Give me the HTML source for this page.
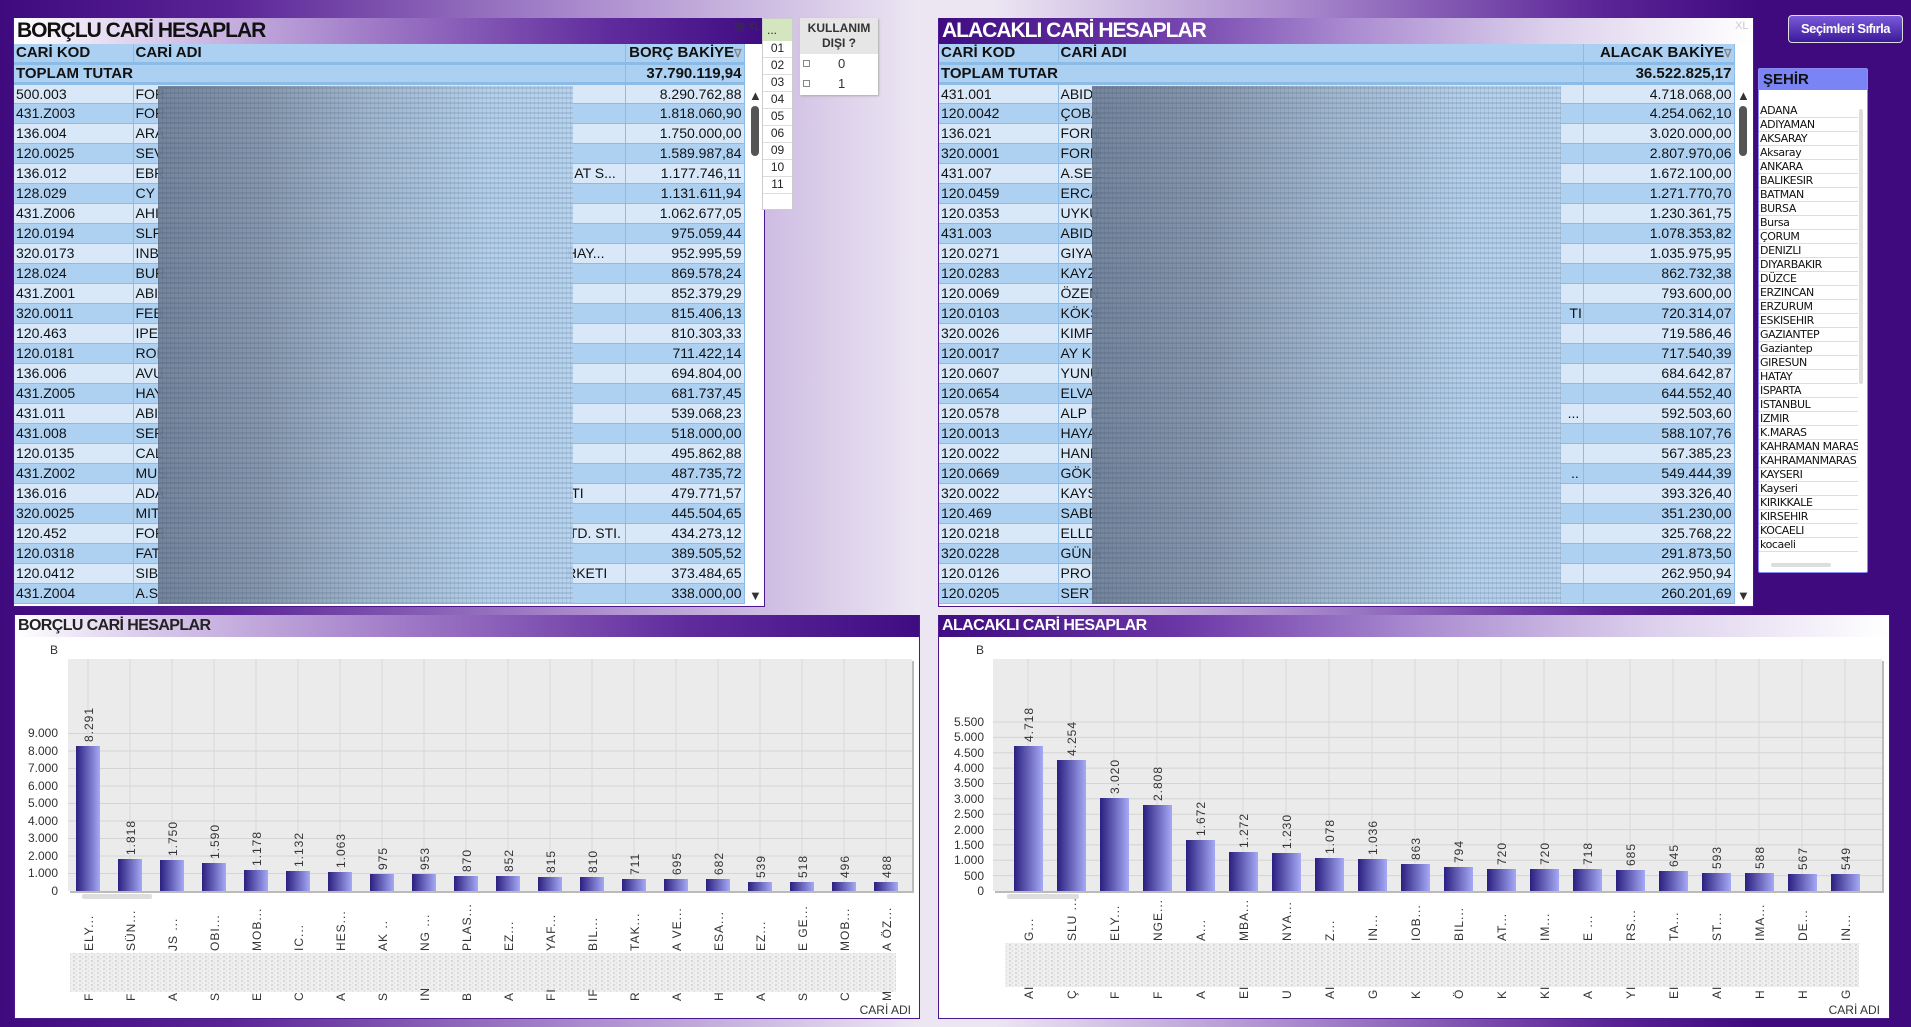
<!DOCTYPE html>
<html><head><meta charset="utf-8">
<style>
*{margin:0;padding:0;box-sizing:border-box}
body{width:1911px;height:1027px;overflow:hidden;position:relative;font-family:"Liberation Sans",sans-serif;
background:linear-gradient(90deg,#3e0a7e 0%,#5a2496 12%,#a888cc 30%,#ece6f3 48%,#ece6f3 52%,#a888cc 68%,#5a2496 84%,#3e0a7e 92%,#3e0a7e 100%);}
.abs{position:absolute}
.title{position:absolute;height:26px;font-family:"Liberation Sans Narrow","Liberation Sans",sans-serif;font-weight:bold;font-size:21px;line-height:26px;padding-left:3px;letter-spacing:-1px}
table.t{position:absolute;border-collapse:collapse;table-layout:fixed;font-size:14px;font-family:"Liberation Sans",sans-serif}
table.t td{height:20px;padding:0 2px;border-right:1px solid #8cbbe6;border-bottom:1px solid #8cbbe6;white-space:nowrap;overflow:hidden;color:#111}
table.t tr.h td{height:19px;background:#abd0f2;font-family:"Liberation Sans Narrow","Liberation Sans",sans-serif;font-weight:bold;font-size:15px;border-bottom:3px solid #8cbbe6}
table.t tr.tot td{height:20px;background:#abd0f2;font-family:"Liberation Sans Narrow","Liberation Sans",sans-serif;font-weight:bold;font-size:15px;border-bottom:3px solid #8cbbe6}
table.t tr.l td{background:#d8e8f8}
table.t tr.d td{background:#afd1f1}
table.t td.v{text-align:right}
.blur{position:absolute;background:repeating-linear-gradient(0deg,rgba(40,50,70,.12) 0 2px,rgba(255,255,255,0) 2px 5px),repeating-linear-gradient(90deg,rgba(40,50,70,.10) 0 1px,rgba(255,255,255,0) 1px 4px),linear-gradient(90deg,#6f8098 0%,#8294aa 25%,#9db4cc 50%,#b3cfea 80%,#b6d3ef 100%);opacity:.95}
.sh li{list-style:none;height:14px;font-size:11px;line-height:14px;border-bottom:1px solid #ddd;padding-left:1px;color:#111;white-space:nowrap;overflow:hidden;font-family:"DejaVu Sans","Liberation Sans",sans-serif;letter-spacing:-0.4px}
</style></head><body>

<div class="abs" style="left:13px;top:18px;width:752px;height:589px;background:#fff;border:1px solid #4b1690"></div>
<div class="title" style="left:14px;top:18px;width:750px;background:linear-gradient(90deg,#fff 0%,#d8c8ea 20%,#9b74c4 50%,#5e2a9c 80%,#3f0c82 100%);color:#111">BORÇLU CARİ HESAPLAR</div>
<div class="abs" style="left:734px;top:20px;font-size:11px;color:#333">▤ XL</div>
<table class="t" style="left:14px;top:44px;width:730px">
<colgroup><col style="width:119px"><col style="width:492px"><col style="width:119px"></colgroup>
<tr class="h"><td>CARİ KOD</td><td>CARİ ADI</td><td class="v">BORÇ BAKİYE<span style="color:#888;font-size:11px">∇</span></td></tr>
<tr class="tot"><td colspan="2">TOPLAM TUTAR</td><td class="v">37.790.119,94</td></tr>
<tr class="l"><td>500.003</td><td>FOR</td><td class="v">8.290.762,88</td></tr>
<tr class="d"><td>431.Z003</td><td>FOR</td><td class="v">1.818.060,90</td></tr>
<tr class="l"><td>136.004</td><td>ARA</td><td class="v">1.750.000,00</td></tr>
<tr class="d"><td>120.0025</td><td>SEV</td><td class="v">1.589.987,84</td></tr>
<tr class="l"><td>136.012</td><td>EBR<span style="position:relative;left:410px">AT S...</span></td><td class="v">1.177.746,11</td></tr>
<tr class="d"><td>128.029</td><td>CY</td><td class="v">1.131.611,94</td></tr>
<tr class="l"><td>431.Z006</td><td>AHI</td><td class="v">1.062.677,05</td></tr>
<tr class="d"><td>120.0194</td><td>SLP</td><td class="v">975.059,44</td></tr>
<tr class="l"><td>320.0173</td><td>INB<span style="position:relative;left:408px">HAY...</span></td><td class="v">952.995,59</td></tr>
<tr class="d"><td>128.024</td><td>BUR</td><td class="v">869.578,24</td></tr>
<tr class="l"><td>431.Z001</td><td>ABI</td><td class="v">852.379,29</td></tr>
<tr class="d"><td>320.0011</td><td>FEB</td><td class="v">815.406,13</td></tr>
<tr class="l"><td>120.463</td><td>IPE</td><td class="v">810.303,33</td></tr>
<tr class="d"><td>120.0181</td><td>ROI</td><td class="v">711.422,14</td></tr>
<tr class="l"><td>136.006</td><td>AVU</td><td class="v">694.804,00</td></tr>
<tr class="d"><td>431.Z005</td><td>HAY</td><td class="v">681.737,45</td></tr>
<tr class="l"><td>431.011</td><td>ABI</td><td class="v">539.068,23</td></tr>
<tr class="d"><td>431.008</td><td>SER</td><td class="v">518.000,00</td></tr>
<tr class="l"><td>120.0135</td><td>CAL</td><td class="v">495.862,88</td></tr>
<tr class="d"><td>431.Z002</td><td>MUS</td><td class="v">487.735,72</td></tr>
<tr class="l"><td>136.016</td><td>ADA<span style="position:relative;left:408px">TI</span></td><td class="v">479.771,57</td></tr>
<tr class="d"><td>320.0025</td><td>MIT</td><td class="v">445.504,65</td></tr>
<tr class="l"><td>120.452</td><td>FOR<span style="position:relative;left:404px">TD. STI.</span></td><td class="v">434.273,12</td></tr>
<tr class="d"><td>120.0318</td><td>FAT</td><td class="v">389.505,52</td></tr>
<tr class="l"><td>120.0412</td><td>SIB<span style="position:relative;left:408px">RKETI</span></td><td class="v">373.484,65</td></tr>
<tr class="d"><td>431.Z004</td><td>A.S</td><td class="v">338.000,00</td></tr>
</table>
<div class="blur" style="left:158px;top:86px;width:415px;height:518px"></div>
<div class="abs" style="left:749px;top:88px;font-size:13px;color:#333">▲</div>
<div class="abs" style="left:751px;top:106px;width:8px;height:50px;background:#555;border-radius:4px"></div>
<div class="abs" style="left:749px;top:588px;font-size:13px;color:#333">▼</div>

<div class="abs" style="left:762px;top:18px;width:31px;height:192px;background:#fff;border:1px solid #ccc;font-size:12px;color:#222">
<div style="height:22px;background:#d3e6bf;padding-left:4px;line-height:22px">...</div>
<div style="height:17px;border-bottom:1px solid #ddd;text-align:center">01</div>
<div style="height:17px;border-bottom:1px solid #ddd;text-align:center">02</div>
<div style="height:17px;border-bottom:1px solid #ddd;text-align:center">03</div>
<div style="height:17px;border-bottom:1px solid #ddd;text-align:center">04</div>
<div style="height:17px;border-bottom:1px solid #ddd;text-align:center">05</div>
<div style="height:17px;border-bottom:1px solid #ddd;text-align:center">06</div>
<div style="height:17px;border-bottom:1px solid #ddd;text-align:center">09</div>
<div style="height:17px;border-bottom:1px solid #ddd;text-align:center">10</div>
<div style="height:17px;border-bottom:1px solid #ddd;text-align:center">11</div>
</div>
<div class="abs" style="left:800px;top:18px;width:78px;height:77px;background:#fff;box-shadow:1px 1px 2px #aaa;font-size:13px;color:#333">
<div style="height:36px;background:#e6e6e6;text-align:center;font-weight:bold;font-size:12px;line-height:15px;padding-top:3px">KULLANIM<br>DIŞI ?</div>
<div style="height:20px;line-height:20px;position:relative"><span style="position:absolute;left:3px;top:6px;width:7px;height:7px;border:1px solid #888"></span><span style="position:absolute;left:38px">0</span></div>
<div style="height:20px;line-height:20px;position:relative"><span style="position:absolute;left:3px;top:6px;width:7px;height:7px;border:1px solid #888"></span><span style="position:absolute;left:38px">1</span></div>
</div>

<div class="abs" style="left:938px;top:18px;width:816px;height:589px;background:#fff;border:1px solid #4b1690"></div>
<div class="title" style="left:939px;top:18px;width:814px;background:linear-gradient(90deg,#3f0c82 0%,#6a36a6 25%,#a98ad0 50%,#dcd0ec 75%,#fff 100%);color:#fff">ALACAKLI CARİ HESAPLAR</div>
<div class="abs" style="left:1735px;top:20px;font-size:11px;color:#ccc">XL</div>
<table class="t" style="left:939px;top:44px;width:795px">
<colgroup><col style="width:119px"><col style="width:525px"><col style="width:151px"></colgroup>
<tr class="h"><td>CARİ KOD</td><td>CARİ ADI</td><td class="v">ALACAK BAKİYE<span style="color:#888;font-size:11px">∇</span></td></tr>
<tr class="tot"><td colspan="2">TOPLAM TUTAR</td><td class="v">36.522.825,17</td></tr>
<tr class="l"><td>431.001</td><td>ABID</td><td class="v">4.718.068,00</td></tr>
<tr class="d"><td>120.0042</td><td>ÇOBA</td><td class="v">4.254.062,10</td></tr>
<tr class="l"><td>136.021</td><td>FORN</td><td class="v">3.020.000,00</td></tr>
<tr class="d"><td>320.0001</td><td>FORN</td><td class="v">2.807.970,06</td></tr>
<tr class="l"><td>431.007</td><td>A.SEZ</td><td class="v">1.672.100,00</td></tr>
<tr class="d"><td>120.0459</td><td>ERCA</td><td class="v">1.271.770,70</td></tr>
<tr class="l"><td>120.0353</td><td>UYKU</td><td class="v">1.230.361,75</td></tr>
<tr class="d"><td>431.003</td><td>ABID</td><td class="v">1.078.353,82</td></tr>
<tr class="l"><td>120.0271</td><td>GIYA</td><td class="v">1.035.975,95</td></tr>
<tr class="d"><td>120.0283</td><td>KAYZ</td><td class="v">862.732,38</td></tr>
<tr class="l"><td>120.0069</td><td>ÖZEN</td><td class="v">793.600,00</td></tr>
<tr class="d"><td>120.0103</td><td>KÖKS<span style="position:relative;left:470px">TI.</span></td><td class="v">720.314,07</td></tr>
<tr class="l"><td>320.0026</td><td>KIMP</td><td class="v">719.586,46</td></tr>
<tr class="d"><td>120.0017</td><td>AY K</td><td class="v">717.540,39</td></tr>
<tr class="l"><td>120.0607</td><td>YUNU</td><td class="v">684.642,87</td></tr>
<tr class="d"><td>120.0654</td><td>ELVA</td><td class="v">644.552,40</td></tr>
<tr class="l"><td>120.0578</td><td>ALP F<span style="position:relative;left:470px">...</span></td><td class="v">592.503,60</td></tr>
<tr class="d"><td>120.0013</td><td>HAYA</td><td class="v">588.107,76</td></tr>
<tr class="l"><td>120.0022</td><td>HANE</td><td class="v">567.385,23</td></tr>
<tr class="d"><td>120.0669</td><td>GÖKS<span style="position:relative;left:470px">..</span></td><td class="v">549.444,39</td></tr>
<tr class="l"><td>320.0022</td><td>KAYS</td><td class="v">393.326,40</td></tr>
<tr class="d"><td>120.469</td><td>SABE</td><td class="v">351.230,00</td></tr>
<tr class="l"><td>120.0218</td><td>ELLD</td><td class="v">325.768,22</td></tr>
<tr class="d"><td>320.0228</td><td>GÜNA</td><td class="v">291.873,50</td></tr>
<tr class="l"><td>120.0126</td><td>PROL</td><td class="v">262.950,94</td></tr>
<tr class="d"><td>120.0205</td><td>SERT</td><td class="v">260.201,69</td></tr>
</table>
<div class="blur" style="left:1092px;top:86px;width:469px;height:518px"></div>
<div class="abs" style="left:1737px;top:88px;font-size:13px;color:#333">▲</div>
<div class="abs" style="left:1739px;top:106px;width:8px;height:50px;background:#555;border-radius:4px"></div>
<div class="abs" style="left:1737px;top:588px;font-size:13px;color:#333">▼</div>

<div class="abs" style="left:1788px;top:15px;width:115px;height:28px;border:1px solid #ddd;border-radius:4px;background:linear-gradient(#7a5ad8,#3a1a9a);color:#fff;font-weight:bold;font-size:13px;text-align:center;line-height:26px;letter-spacing:-0.5px">Seçimleri Sıfırla</div>

<div class="abs sh" style="left:1758px;top:68px;width:110px;height:505px;background:#fff;border:1px solid #8a8af0;border-radius:2px">
<div style="height:21px;background:#7b84f5;font-weight:bold;font-size:15px;line-height:21px;padding-left:4px;color:#111;font-family:'Liberation Sans Narrow','Liberation Sans',sans-serif">ŞEHİR</div>
<ul style="margin-top:14px;width:99px">
<li>ADANA</li><li>ADIYAMAN</li><li>AKSARAY</li><li>Aksaray</li><li>ANKARA</li><li>BALIKESIR</li><li>BATMAN</li><li>BURSA</li><li>Bursa</li><li>ÇORUM</li><li>DENIZLI</li><li>DIYARBAKIR</li><li>DÜZCE</li><li>ERZINCAN</li><li>ERZURUM</li><li>ESKISEHIR</li><li>GAZIANTEP</li><li>Gaziantep</li><li>GIRESUN</li><li>HATAY</li><li>ISPARTA</li><li>ISTANBUL</li><li>IZMIR</li><li>K.MARAS</li><li>KAHRAMAN MARAS</li><li>KAHRAMANMARAS</li><li>KAYSERI</li><li>Kayseri</li><li>KIRIKKALE</li><li>KIRSEHIR</li><li>KOCAELI</li><li>kocaeli</li>
</ul>
<div class="abs" style="left:100px;top:40px;width:4px;height:275px;background:#ddd;border-radius:2px"></div>
<div class="abs" style="left:12px;top:494px;width:60px;height:4px;background:#ddd;border-radius:2px"></div>
</div>

<div class="abs" style="left:14px;top:615px;width:906px;height:404px;background:#fff;border:1px solid #4b1690"></div>
<div class="title" style="left:15px;top:615px;width:904px;height:22px;font-size:16px;line-height:22px;letter-spacing:-0.6px;background:linear-gradient(90deg,#fff 0%,#d8c8ea 15%,#9b74c4 45%,#5e2a9c 75%,#3f0c82 100%);color:#222">BORÇLU CARİ HESAPLAR</div>
<svg class="abs" style="left:0;top:0" width="1911" height="1027" xmlns="http://www.w3.org/2000/svg" font-family="Liberation Sans, sans-serif">
<defs>
<linearGradient id="bg" x1="0" x2="1" y1="0" y2="0"><stop offset="0" stop-color="#2a1f80"/><stop offset="1" stop-color="#a6aaf5"/></linearGradient>
<pattern id="nz" width="6" height="4" patternUnits="userSpaceOnUse"><rect width="6" height="4" fill="#efefef"/><rect x="1" y="0" width="2" height="2" fill="#d8d8d8"/><rect x="4" y="2" width="1" height="2" fill="#e0e0e0"/></pattern>
</defs>
<rect x="70" y="661" width="844" height="232" fill="#bbb"/>
<rect x="68" y="659" width="844" height="232" fill="#ebebeb"/>
<g stroke="#d4d4d4" stroke-width="1">
<line x1="68" x2="912" y1="873.5" y2="873.5"/><line x1="68" x2="912" y1="856" y2="856"/><line x1="68" x2="912" y1="838.5" y2="838.5"/><line x1="68" x2="912" y1="821" y2="821"/><line x1="68" x2="912" y1="803.5" y2="803.5"/><line x1="68" x2="912" y1="786" y2="786"/><line x1="68" x2="912" y1="768.5" y2="768.5"/><line x1="68" x2="912" y1="751" y2="751"/><line x1="68" x2="912" y1="733.5" y2="733.5"/>
</g>
<g stroke="#d8d8d8"><line x1="88" x2="88" y1="659" y2="891"/><line x1="130" x2="130" y1="659" y2="891"/><line x1="172" x2="172" y1="659" y2="891"/><line x1="214" x2="214" y1="659" y2="891"/><line x1="256" x2="256" y1="659" y2="891"/><line x1="298" x2="298" y1="659" y2="891"/><line x1="340" x2="340" y1="659" y2="891"/><line x1="382" x2="382" y1="659" y2="891"/><line x1="424" x2="424" y1="659" y2="891"/><line x1="466" x2="466" y1="659" y2="891"/><line x1="508" x2="508" y1="659" y2="891"/><line x1="550" x2="550" y1="659" y2="891"/><line x1="592" x2="592" y1="659" y2="891"/><line x1="634" x2="634" y1="659" y2="891"/><line x1="676" x2="676" y1="659" y2="891"/><line x1="718" x2="718" y1="659" y2="891"/><line x1="760" x2="760" y1="659" y2="891"/><line x1="802" x2="802" y1="659" y2="891"/><line x1="844" x2="844" y1="659" y2="891"/><line x1="886" x2="886" y1="659" y2="891"/></g>
<g font-size="12" fill="#333" text-anchor="end" font-family="Liberation Sans Narrow, Liberation Sans, sans-serif">
<text x="54" y="654" text-anchor="middle">B</text>
<text x="58" y="895">0</text><text x="58" y="877">1.000</text><text x="58" y="860">2.000</text><text x="58" y="842">3.000</text><text x="58" y="825">4.000</text><text x="58" y="807">5.000</text><text x="58" y="790">6.000</text><text x="58" y="772">7.000</text><text x="58" y="755">8.000</text><text x="58" y="737">9.000</text>
</g>
<g>
<rect x="82" y="756" width="6" height="135" fill="#777"/><rect x="76" y="746" width="24" height="145" fill="url(#bg)"/>
<rect x="124" y="869" width="6" height="22" fill="#777"/><rect x="118" y="859" width="24" height="32" fill="url(#bg)"/>
<rect x="166" y="870" width="6" height="21" fill="#777"/><rect x="160" y="860" width="24" height="31" fill="url(#bg)"/>
<rect x="208" y="873" width="6" height="18" fill="#777"/><rect x="202" y="863" width="24" height="28" fill="url(#bg)"/>
<rect x="250" y="880" width="6" height="11" fill="#777"/><rect x="244" y="870" width="24" height="21" fill="url(#bg)"/>
<rect x="292" y="881" width="6" height="10" fill="#777"/><rect x="286" y="871" width="24" height="20" fill="url(#bg)"/>
<rect x="334" y="882" width="6" height="9" fill="#777"/><rect x="328" y="872" width="24" height="19" fill="url(#bg)"/>
<rect x="376" y="884" width="6" height="7" fill="#777"/><rect x="370" y="874" width="24" height="17" fill="url(#bg)"/>
<rect x="418" y="884" width="6" height="7" fill="#777"/><rect x="412" y="874" width="24" height="17" fill="url(#bg)"/>
<rect x="460" y="886" width="6" height="5" fill="#777"/><rect x="454" y="876" width="24" height="15" fill="url(#bg)"/>
<rect x="502" y="886" width="6" height="5" fill="#777"/><rect x="496" y="876" width="24" height="15" fill="url(#bg)"/>
<rect x="544" y="887" width="6" height="4" fill="#777"/><rect x="538" y="877" width="24" height="14" fill="url(#bg)"/>
<rect x="586" y="887" width="6" height="4" fill="#777"/><rect x="580" y="877" width="24" height="14" fill="url(#bg)"/>
<rect x="628" y="888" width="6" height="3" fill="#777"/><rect x="622" y="879" width="24" height="12" fill="url(#bg)"/>
<rect x="670" y="888" width="6" height="3" fill="#777"/><rect x="664" y="879" width="24" height="12" fill="url(#bg)"/>
<rect x="712" y="888" width="6" height="3" fill="#777"/><rect x="706" y="879" width="24" height="12" fill="url(#bg)"/>
<rect x="754" y="888" width="6" height="3" fill="#777"/><rect x="748" y="882" width="24" height="9" fill="url(#bg)"/>
<rect x="796" y="888" width="6" height="3" fill="#777"/><rect x="790" y="882" width="24" height="9" fill="url(#bg)"/>
<rect x="838" y="888" width="6" height="3" fill="#777"/><rect x="832" y="882" width="24" height="9" fill="url(#bg)"/>
<rect x="880" y="888" width="6" height="3" fill="#777"/><rect x="874" y="882" width="24" height="9" fill="url(#bg)"/>
</g>
<g font-size="12" fill="#333" letter-spacing="1">
<text transform="translate(93,742) rotate(-90)">8.291</text><text transform="translate(135,855) rotate(-90)">1.818</text><text transform="translate(177,856) rotate(-90)">1.750</text><text transform="translate(219,859) rotate(-90)">1.590</text><text transform="translate(261,866) rotate(-90)">1.178</text><text transform="translate(303,867) rotate(-90)">1.132</text><text transform="translate(345,868) rotate(-90)">1.063</text><text transform="translate(387,870) rotate(-90)">975</text><text transform="translate(429,870) rotate(-90)">953</text><text transform="translate(471,872) rotate(-90)">870</text><text transform="translate(513,872) rotate(-90)">852</text><text transform="translate(555,873) rotate(-90)">815</text><text transform="translate(597,873) rotate(-90)">810</text><text transform="translate(639,875) rotate(-90)">711</text><text transform="translate(681,875) rotate(-90)">695</text><text transform="translate(723,875) rotate(-90)">682</text><text transform="translate(765,878) rotate(-90)">539</text><text transform="translate(807,878) rotate(-90)">518</text><text transform="translate(849,878) rotate(-90)">496</text><text transform="translate(891,878) rotate(-90)">488</text>
</g>
<rect x="82" y="894" width="70" height="5" rx="2" fill="#ddd"/>
<rect x="70" y="953" width="826" height="39" fill="url(#nz)"/>
<g font-size="12" fill="#333" letter-spacing="1">
<text transform="translate(93,951) rotate(-90)">ELY...</text><text transform="translate(135,951) rotate(-90)">SÜN...</text><text transform="translate(177,951) rotate(-90)">JS ...</text><text transform="translate(219,951) rotate(-90)">OBI...</text><text transform="translate(261,951) rotate(-90)">MOB...</text><text transform="translate(303,951) rotate(-90)">IC...</text><text transform="translate(345,951) rotate(-90)">HES...</text><text transform="translate(387,951) rotate(-90)">AK ..</text><text transform="translate(429,951) rotate(-90)">NG ...</text><text transform="translate(471,951) rotate(-90)">PLAS...</text><text transform="translate(513,951) rotate(-90)">EZ...</text><text transform="translate(555,951) rotate(-90)">YAF...</text><text transform="translate(597,951) rotate(-90)">BIL...</text><text transform="translate(639,951) rotate(-90)">TAK...</text><text transform="translate(681,951) rotate(-90)">A VE...</text><text transform="translate(723,951) rotate(-90)">ESA...</text><text transform="translate(765,951) rotate(-90)">EZ...</text><text transform="translate(807,951) rotate(-90)">E GE...</text><text transform="translate(849,951) rotate(-90)">MOB...</text><text transform="translate(891,951) rotate(-90)">A ÖZ...</text>
<text transform="translate(93,1001) rotate(-90)">F</text><text transform="translate(135,1001) rotate(-90)">F</text><text transform="translate(177,1001) rotate(-90)">A</text><text transform="translate(219,1001) rotate(-90)">S</text><text transform="translate(261,1001) rotate(-90)">E</text><text transform="translate(303,1001) rotate(-90)">C</text><text transform="translate(345,1001) rotate(-90)">A</text><text transform="translate(387,1001) rotate(-90)">S</text><text transform="translate(429,1001) rotate(-90)">IN</text><text transform="translate(471,1001) rotate(-90)">B</text><text transform="translate(513,1001) rotate(-90)">A</text><text transform="translate(555,1001) rotate(-90)">FI</text><text transform="translate(597,1001) rotate(-90)">IF</text><text transform="translate(639,1001) rotate(-90)">R</text><text transform="translate(681,1001) rotate(-90)">A</text><text transform="translate(723,1001) rotate(-90)">H</text><text transform="translate(765,1001) rotate(-90)">A</text><text transform="translate(807,1001) rotate(-90)">S</text><text transform="translate(849,1001) rotate(-90)">C</text><text transform="translate(891,1001) rotate(-90)">M</text>
</g>
<text x="911" y="1014" font-size="12" fill="#333" text-anchor="end" font-family="Liberation Sans Narrow, Liberation Sans, sans-serif">CARİ ADI</text>
</svg>

<div class="abs" style="left:938px;top:615px;width:952px;height:404px;background:#fff;border:1px solid #4b1690"></div>
<div class="title" style="left:939px;top:615px;width:950px;height:22px;font-size:16px;line-height:22px;letter-spacing:-0.6px;background:linear-gradient(90deg,#3f0c82 0%,#6a36a6 25%,#a98ad0 50%,#dcd0ec 75%,#fff 100%);color:#fff">ALACAKLI CARİ HESAPLAR</div>
<svg class="abs" style="left:0;top:0" width="1911" height="1027" xmlns="http://www.w3.org/2000/svg" font-family="Liberation Sans, sans-serif">
<defs>
<linearGradient id="bg2" x1="0" x2="1" y1="0" y2="0"><stop offset="0" stop-color="#2a1f80"/><stop offset="1" stop-color="#a6aaf5"/></linearGradient>
<pattern id="nz2" width="6" height="4" patternUnits="userSpaceOnUse"><rect width="6" height="4" fill="#efefef"/><rect x="1" y="0" width="2" height="2" fill="#d8d8d8"/><rect x="4" y="2" width="1" height="2" fill="#e0e0e0"/></pattern>
</defs>
<rect x="995" y="661" width="889" height="232" fill="#bbb"/>
<rect x="993" y="659" width="889" height="232" fill="#ebebeb"/>
<g stroke="#d4d4d4"><line x1="993" x2="1882" y1="875.6" y2="875.6"/><line x1="993" x2="1882" y1="860.3" y2="860.3"/><line x1="993" x2="1882" y1="844.9" y2="844.9"/><line x1="993" x2="1882" y1="829.6" y2="829.6"/><line x1="993" x2="1882" y1="814.2" y2="814.2"/><line x1="993" x2="1882" y1="798.8" y2="798.8"/><line x1="993" x2="1882" y1="783.5" y2="783.5"/><line x1="993" x2="1882" y1="768.1" y2="768.1"/><line x1="993" x2="1882" y1="752.8" y2="752.8"/><line x1="993" x2="1882" y1="737.4" y2="737.4"/><line x1="993" x2="1882" y1="722" y2="722"/></g>
<g stroke="#d8d8d8"><line x1="1028" x2="1028" y1="659" y2="891"/><line x1="1071" x2="1071" y1="659" y2="891"/><line x1="1114" x2="1114" y1="659" y2="891"/><line x1="1157" x2="1157" y1="659" y2="891"/><line x1="1200" x2="1200" y1="659" y2="891"/><line x1="1243" x2="1243" y1="659" y2="891"/><line x1="1286" x2="1286" y1="659" y2="891"/><line x1="1329" x2="1329" y1="659" y2="891"/><line x1="1372" x2="1372" y1="659" y2="891"/><line x1="1415" x2="1415" y1="659" y2="891"/><line x1="1458" x2="1458" y1="659" y2="891"/><line x1="1501" x2="1501" y1="659" y2="891"/><line x1="1544" x2="1544" y1="659" y2="891"/><line x1="1587" x2="1587" y1="659" y2="891"/><line x1="1630" x2="1630" y1="659" y2="891"/><line x1="1673" x2="1673" y1="659" y2="891"/><line x1="1716" x2="1716" y1="659" y2="891"/><line x1="1759" x2="1759" y1="659" y2="891"/><line x1="1802" x2="1802" y1="659" y2="891"/><line x1="1845" x2="1845" y1="659" y2="891"/></g>
<g font-size="12" fill="#333" text-anchor="end" font-family="Liberation Sans Narrow, Liberation Sans, sans-serif">
<text x="980" y="654" text-anchor="middle">B</text>
<text x="984" y="895">0</text><text x="984" y="880">500</text><text x="984" y="864">1.000</text><text x="984" y="849">1.500</text><text x="984" y="834">2.000</text><text x="984" y="818">2.500</text><text x="984" y="803">3.000</text><text x="984" y="787">3.500</text><text x="984" y="772">4.000</text><text x="984" y="757">4.500</text><text x="984" y="741">5.000</text><text x="984" y="726">5.500</text>
</g>
<g fill="url(#bg2)">
<rect x="1014" y="746" width="29" height="145"/><rect x="1057" y="760" width="29" height="131"/><rect x="1100" y="798" width="29" height="93"/><rect x="1143" y="805" width="29" height="86"/><rect x="1186" y="840" width="29" height="51"/><rect x="1229" y="852" width="29" height="39"/><rect x="1272" y="853" width="29" height="38"/><rect x="1315" y="858" width="29" height="33"/><rect x="1358" y="859" width="29" height="32"/><rect x="1401" y="864" width="29" height="27"/><rect x="1444" y="867" width="29" height="24"/><rect x="1487" y="869" width="29" height="22"/><rect x="1530" y="869" width="29" height="22"/><rect x="1573" y="869" width="29" height="22"/><rect x="1616" y="870" width="29" height="21"/><rect x="1659" y="871" width="29" height="20"/><rect x="1702" y="873" width="29" height="18"/><rect x="1745" y="873" width="29" height="18"/><rect x="1788" y="874" width="29" height="17"/><rect x="1831" y="874" width="29" height="17"/>
</g>
<g font-size="12" fill="#333" letter-spacing="1">
<text transform="translate(1033,742) rotate(-90)">4.718</text><text transform="translate(1076,756) rotate(-90)">4.254</text><text transform="translate(1119,794) rotate(-90)">3.020</text><text transform="translate(1162,801) rotate(-90)">2.808</text><text transform="translate(1205,836) rotate(-90)">1.672</text><text transform="translate(1248,848) rotate(-90)">1.272</text><text transform="translate(1291,849) rotate(-90)">1.230</text><text transform="translate(1334,854) rotate(-90)">1.078</text><text transform="translate(1377,855) rotate(-90)">1.036</text><text transform="translate(1420,860) rotate(-90)">863</text><text transform="translate(1463,863) rotate(-90)">794</text><text transform="translate(1506,865) rotate(-90)">720</text><text transform="translate(1549,865) rotate(-90)">720</text><text transform="translate(1592,865) rotate(-90)">718</text><text transform="translate(1635,866) rotate(-90)">685</text><text transform="translate(1678,867) rotate(-90)">645</text><text transform="translate(1721,869) rotate(-90)">593</text><text transform="translate(1764,869) rotate(-90)">588</text><text transform="translate(1807,870) rotate(-90)">567</text><text transform="translate(1850,870) rotate(-90)">549</text>
</g>
<rect x="1007" y="894" width="72" height="5" rx="2" fill="#ddd"/>
<rect x="1005" y="943" width="854" height="44" fill="url(#nz2)"/>
<g font-size="12" fill="#333" letter-spacing="1">
<text transform="translate(1033,941) rotate(-90)">G...</text><text transform="translate(1076,941) rotate(-90)">SLU ...</text><text transform="translate(1119,941) rotate(-90)">ELY...</text><text transform="translate(1162,941) rotate(-90)">NGE...</text><text transform="translate(1205,941) rotate(-90)">A...</text><text transform="translate(1248,941) rotate(-90)">MBA...</text><text transform="translate(1291,941) rotate(-90)">NYA...</text><text transform="translate(1334,941) rotate(-90)">Z...</text><text transform="translate(1377,941) rotate(-90)">IN...</text><text transform="translate(1420,941) rotate(-90)">IOB...</text><text transform="translate(1463,941) rotate(-90)">BIL...</text><text transform="translate(1506,941) rotate(-90)">AT...</text><text transform="translate(1549,941) rotate(-90)">IM...</text><text transform="translate(1592,941) rotate(-90)">E ...</text><text transform="translate(1635,941) rotate(-90)">RS...</text><text transform="translate(1678,941) rotate(-90)">TA...</text><text transform="translate(1721,941) rotate(-90)">ST...</text><text transform="translate(1764,941) rotate(-90)">IMA...</text><text transform="translate(1807,941) rotate(-90)">DE...</text><text transform="translate(1850,941) rotate(-90)">IN...</text>
<text transform="translate(1033,999) rotate(-90)">AI</text><text transform="translate(1076,999) rotate(-90)">Ç</text><text transform="translate(1119,999) rotate(-90)">F</text><text transform="translate(1162,999) rotate(-90)">F</text><text transform="translate(1205,999) rotate(-90)">A</text><text transform="translate(1248,999) rotate(-90)">EI</text><text transform="translate(1291,999) rotate(-90)">U</text><text transform="translate(1334,999) rotate(-90)">AI</text><text transform="translate(1377,999) rotate(-90)">G</text><text transform="translate(1420,999) rotate(-90)">K</text><text transform="translate(1463,999) rotate(-90)">Ö</text><text transform="translate(1506,999) rotate(-90)">K</text><text transform="translate(1549,999) rotate(-90)">KI</text><text transform="translate(1592,999) rotate(-90)">A</text><text transform="translate(1635,999) rotate(-90)">YI</text><text transform="translate(1678,999) rotate(-90)">EI</text><text transform="translate(1721,999) rotate(-90)">AI</text><text transform="translate(1764,999) rotate(-90)">H</text><text transform="translate(1807,999) rotate(-90)">H</text><text transform="translate(1850,999) rotate(-90)">G</text>
</g>
<text x="1880" y="1014" font-size="12" fill="#333" text-anchor="end" font-family="Liberation Sans Narrow, Liberation Sans, sans-serif">CARİ ADI</text>
</svg>
</body></html>
